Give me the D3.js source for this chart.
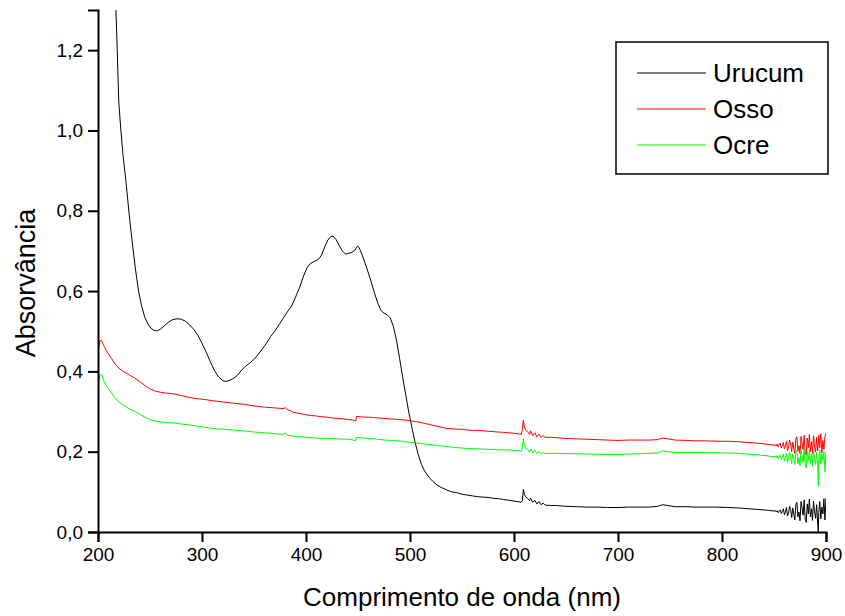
<!DOCTYPE html>
<html>
<head>
<meta charset="utf-8">
<script src="https://cdn.jsdelivr.net/npm/d3@7"></script>
<style>
  html, body { margin: 0; padding: 0; background: #fff; }
  svg { display: block; font-family: Arial, "Liberation Sans", sans-serif; }
</style>
</head>
<body>
<div id="chart"></div>
<script>
// absorbance spectra, [wavelength nm, absorbance]
var urucum = [
  [212, 1.75], [215, 1.5], [217, 1.32], [218.5, 1.2], [220, 1.07], [222, 1.0],
  [224, 0.94], [227, 0.87], [230, 0.79], [233, 0.72], [236, 0.655], [239, 0.6],
  [242, 0.562], [245, 0.535], [248, 0.518], [251, 0.507], [254, 0.502],
  [257, 0.501], [260, 0.505], [264, 0.514], [268, 0.523], [272, 0.529],
  [276, 0.531], [280, 0.53], [284, 0.525], [288, 0.516], [292, 0.505],
  [296, 0.49], [300, 0.47], [304, 0.448], [308, 0.424], [312, 0.402],
  [316, 0.386], [320, 0.377], [323, 0.375], [326, 0.377], [330, 0.382],
  [334, 0.39], [338, 0.403], [342, 0.413], [346, 0.421], [350, 0.43],
  [354, 0.442], [358, 0.456], [362, 0.47], [366, 0.487], [370, 0.5],
  [374, 0.516], [378, 0.532], [382, 0.548], [386, 0.562], [390, 0.585],
  [394, 0.61], [398, 0.64], [401, 0.658], [404, 0.668], [408, 0.674],
  [412, 0.679], [415, 0.69], [418, 0.71], [421, 0.727], [424, 0.736],
  [426, 0.737], [429, 0.728], [432, 0.713], [435, 0.7], [438, 0.692],
  [441, 0.694], [444, 0.696], [447, 0.702], [449.5, 0.712], [451, 0.709],
  [454, 0.69], [457, 0.668], [460, 0.645], [463, 0.62], [466, 0.594],
  [469, 0.57], [472, 0.552], [475, 0.545], [478, 0.541], [481, 0.533],
  [484, 0.512], [487, 0.478], [490, 0.432], [493, 0.385], [496, 0.34],
  [499, 0.296], [502, 0.258], [505, 0.222], [508, 0.192], [511, 0.168],
  [514, 0.152], [518, 0.137], [522, 0.126], [526, 0.117], [530, 0.111],
  [535, 0.105], [540, 0.1], [545, 0.098], [550, 0.094], [555, 0.092],
  [560, 0.09], [565, 0.088], [570, 0.087], [575, 0.086], [580, 0.084],
  [585, 0.083], [590, 0.081], [595, 0.079], [600, 0.077], [605, 0.075],
  [607, 0.074], [608, 0.078], [609, 0.106], [610, 0.094], [611, 0.088],
  [613, 0.084], [615, 0.078], [616, 0.084], [618, 0.074], [620, 0.079],
  [622, 0.07], [624, 0.076], [626, 0.068], [628, 0.072], [630, 0.067],
  [635, 0.066], [640, 0.066], [645, 0.065], [650, 0.064], [660, 0.063],
  [670, 0.062], [680, 0.062], [690, 0.061], [700, 0.061], [710, 0.062],
  [720, 0.062], [730, 0.062], [738, 0.064], [743, 0.068], [748, 0.066],
  [755, 0.063], [765, 0.063], [775, 0.062], [785, 0.062], [795, 0.062],
  [805, 0.061], [815, 0.06], [825, 0.058], [835, 0.056], [845, 0.054],
  [850, 0.052], [851, 0.054], [852, 0.05], [853, 0.053], [854, 0.048],
  [855, 0.052], [856, 0.055], [857, 0.046], [858, 0.051], [859, 0.058],
  [860, 0.043], [861, 0.05], [862, 0.061], [863, 0.04], [864, 0.047],
  [865, 0.064], [866, 0.056], [867, 0.036], [868, 0.06], [869, 0.045],
  [870, 0.03], [871, 0.068], [872, 0.074], [873, 0.038], [874, 0.05],
  [875, 0.028], [876, 0.076], [877, 0.06], [878, 0.042], [879, 0.08],
  [880, 0.032], [881, 0.024], [882, 0.07], [883, 0.045], [884, 0.082],
  [885, 0.038], [886, 0.058], [887, 0.029], [888, 0.077], [889, 0.05],
  [890, 0.034], [891, 0.068], [892, 0.02], [892.6, 0.0], [893, 0.048],
  [894, 0.076], [895, 0.033], [896, 0.062], [897, 0.045], [898, 0.083],
  [899, 0.03], [900, 0.085]
];

var osso = [
  [200, 0.437], [201, 0.465], [202, 0.476], [203, 0.478], [204, 0.474],
  [206, 0.462], [208, 0.452], [210, 0.444], [213, 0.432], [216, 0.42],
  [220, 0.408], [225, 0.399], [230, 0.391], [235, 0.384], [240, 0.375],
  [245, 0.365], [250, 0.356], [255, 0.351], [260, 0.348], [265, 0.346],
  [270, 0.345], [275, 0.343], [280, 0.34], [285, 0.337], [290, 0.334],
  [295, 0.332], [300, 0.331], [305, 0.329], [310, 0.327], [320, 0.324],
  [330, 0.321], [340, 0.318], [350, 0.314], [360, 0.311], [370, 0.309],
  [375, 0.308], [378, 0.307], [380, 0.31], [382, 0.305], [385, 0.302],
  [388, 0.298], [392, 0.296], [396, 0.294], [400, 0.292], [405, 0.29],
  [410, 0.289], [415, 0.287], [420, 0.286], [425, 0.284], [430, 0.283],
  [435, 0.282], [440, 0.28], [445, 0.279], [448, 0.277], [448.5, 0.288],
  [452, 0.287], [456, 0.286], [460, 0.286], [465, 0.285], [470, 0.284],
  [475, 0.283], [480, 0.282], [485, 0.281], [490, 0.28], [495, 0.279],
  [500, 0.277], [505, 0.275], [510, 0.273], [515, 0.27], [520, 0.267],
  [525, 0.264], [530, 0.261], [535, 0.258], [540, 0.257], [545, 0.256],
  [550, 0.256], [555, 0.254], [560, 0.253], [565, 0.253], [570, 0.252],
  [575, 0.251], [580, 0.25], [585, 0.249], [590, 0.248], [595, 0.247],
  [600, 0.246], [605, 0.244], [607, 0.243], [608, 0.255], [609, 0.279],
  [610, 0.262], [611, 0.254], [613, 0.25], [615, 0.243], [616, 0.252],
  [618, 0.24], [620, 0.247], [622, 0.237], [624, 0.244], [626, 0.236],
  [628, 0.24], [630, 0.236], [635, 0.236], [640, 0.235], [650, 0.233],
  [660, 0.232], [670, 0.231], [680, 0.23], [690, 0.229], [700, 0.228],
  [710, 0.229], [720, 0.229], [730, 0.229], [738, 0.23], [743, 0.234],
  [748, 0.232], [755, 0.229], [765, 0.228], [775, 0.227], [785, 0.227],
  [795, 0.226], [805, 0.226], [815, 0.225], [825, 0.223], [835, 0.221],
  [845, 0.218], [850, 0.216], [851, 0.218], [852, 0.214], [853, 0.219],
  [854, 0.212], [855, 0.217], [856, 0.221], [857, 0.209], [858, 0.215],
  [859, 0.223], [860, 0.207], [861, 0.214], [862, 0.226], [863, 0.203],
  [864, 0.212], [865, 0.229], [866, 0.219], [867, 0.2], [868, 0.224],
  [869, 0.209], [870, 0.196], [871, 0.232], [872, 0.237], [873, 0.201],
  [874, 0.215], [875, 0.195], [876, 0.238], [877, 0.222], [878, 0.205],
  [879, 0.241], [880, 0.198], [881, 0.192], [882, 0.234], [883, 0.21],
  [884, 0.243], [885, 0.2], [886, 0.225], [887, 0.196], [888, 0.24],
  [889, 0.214], [890, 0.199], [891, 0.236], [892, 0.202], [893, 0.241],
  [894, 0.21], [895, 0.245], [896, 0.197], [897, 0.228], [898, 0.206],
  [899, 0.238], [900, 0.247]
];

var ocre = [
  [200, 0.354], [201, 0.38], [202, 0.391], [203, 0.393], [204, 0.389],
  [206, 0.375], [208, 0.364], [210, 0.357], [213, 0.346], [216, 0.335],
  [220, 0.324], [225, 0.315], [230, 0.307], [235, 0.301], [240, 0.293],
  [245, 0.286], [250, 0.28], [255, 0.276], [260, 0.274], [265, 0.273],
  [270, 0.272], [275, 0.271], [280, 0.269], [290, 0.266], [300, 0.262],
  [310, 0.258], [320, 0.256], [330, 0.254], [340, 0.252], [350, 0.249],
  [360, 0.247], [370, 0.245], [378, 0.243], [380, 0.247], [382, 0.241],
  [390, 0.238], [400, 0.236], [410, 0.234], [420, 0.233], [430, 0.232],
  [440, 0.231], [448, 0.228], [448.5, 0.236], [455, 0.234], [465, 0.232],
  [475, 0.229], [485, 0.228], [495, 0.225], [505, 0.222], [515, 0.219],
  [525, 0.216], [535, 0.213], [545, 0.21], [555, 0.208], [565, 0.207],
  [575, 0.206], [585, 0.205], [595, 0.204], [605, 0.202], [607, 0.201],
  [608, 0.21], [609, 0.233], [610, 0.216], [611, 0.21], [613, 0.206],
  [615, 0.199], [616, 0.207], [618, 0.197], [620, 0.204], [622, 0.195],
  [624, 0.201], [626, 0.194], [628, 0.198], [630, 0.196], [640, 0.196],
  [650, 0.195], [660, 0.195], [670, 0.194], [680, 0.194], [690, 0.193],
  [700, 0.193], [710, 0.194], [720, 0.195], [730, 0.196], [738, 0.197],
  [743, 0.202], [748, 0.2], [755, 0.198], [765, 0.198], [775, 0.198],
  [785, 0.198], [795, 0.197], [805, 0.197], [815, 0.196], [825, 0.194],
  [835, 0.192], [845, 0.189], [850, 0.187], [851, 0.189], [852, 0.185],
  [853, 0.19], [854, 0.183], [855, 0.188], [856, 0.192], [857, 0.18],
  [858, 0.186], [859, 0.194], [860, 0.177], [861, 0.185], [862, 0.196],
  [863, 0.174], [864, 0.183], [865, 0.198], [866, 0.19], [867, 0.171],
  [868, 0.195], [869, 0.18], [870, 0.168], [871, 0.2], [872, 0.204],
  [873, 0.17], [874, 0.185], [875, 0.165], [876, 0.203], [877, 0.19],
  [878, 0.173], [879, 0.205], [880, 0.167], [881, 0.16], [882, 0.2],
  [883, 0.178], [884, 0.206], [885, 0.17], [886, 0.195], [887, 0.164],
  [888, 0.202], [889, 0.183], [890, 0.168], [891, 0.199], [892, 0.17],
  [892.6, 0.115], [893, 0.178], [894, 0.204], [895, 0.17], [896, 0.196],
  [897, 0.178], [898, 0.2], [899, 0.15], [900, 0.202]
];

var seriesNames = ["Urucum", "Osso", "Ocre"];
var seriesColors = ["#000000", "#ff0000", "#00ff00"];
var xTicks = [200, 300, 400, 500, 600, 700, 800, 900];
var yTicks = [0, 0.2, 0.4, 0.6, 0.8, 1.0, 1.2];

var W = 845, H = 616;
var m = { left: 98, right: 19, top: 10, bottom: 84 };

var svg = d3.select("#chart").append("svg")
  .attr("width", W).attr("height", H);

var x = d3.scaleLinear().domain([200, 900]).range([m.left, W - m.right]);
var y = d3.scaleLinear().domain([0, 1.3]).range([H - m.bottom, m.top]);

svg.append("clipPath").attr("id", "plot-clip")
  .append("rect")
  .attr("x", m.left).attr("y", m.top)
  .attr("width", W - m.left - m.right).attr("height", H - m.top - m.bottom);

var line = d3.line()
  .x(function (d) { return x(d[0]); })
  .y(function (d) { return y(d[1]); });

var plot = svg.append("g").attr("clip-path", "url(#plot-clip)");
[urucum, osso, ocre].forEach(function (s, i) {
  plot.append("path").datum(s)
    .attr("d", line)
    .attr("fill", "none")
    .attr("stroke", seriesColors[i])
    .attr("stroke-width", 1)
    .attr("stroke-linejoin", "round");
});

// axes: major ticks labelled, minor ticks halfway between
var fmt = function (v) { return d3.format(".1f")(v).replace(".", ","); };

var xAxis = svg.append("g")
  .attr("transform", "translate(0," + (H - m.bottom) + ")");
xAxis.call(d3.axisBottom(x).tickValues(d3.range(250, 900, 100))
  .tickSize(6).tickFormat(""));
xAxis.call(d3.axisBottom(x).tickValues(xTicks)
  .tickSize(10).tickPadding(6).tickFormat(d3.format("d")));

var yAxis = svg.append("g")
  .attr("transform", "translate(" + m.left + ",0)");
yAxis.call(d3.axisLeft(y).tickValues([0.1, 0.3, 0.5, 0.7, 0.9, 1.1])
  .tickSize(6).tickFormat(""));
yAxis.call(d3.axisLeft(y).tickValues(yTicks)
  .tickSize(10).tickPadding(5).tickFormat(fmt));

svg.selectAll(".domain").attr("stroke", "#000").attr("stroke-width", 2);
svg.selectAll(".tick line").attr("stroke", "#000").attr("stroke-width", 2);
svg.selectAll(".tick text")
  .attr("fill", "#000")
  .style("font-size", "19px")
  .style("font-family", "Arial, 'Liberation Sans', sans-serif");

svg.append("text")
  .attr("x", (m.left + W - m.right) / 2).attr("y", 606)
  .attr("text-anchor", "middle")
  .style("font-size", "26px")
  .text("Comprimento de onda (nm)");

svg.append("text")
  .attr("transform", "translate(35," + ((m.top + H - m.bottom) / 2 + 12) + ") rotate(-90)")
  .attr("text-anchor", "middle")
  .style("font-size", "27px")
  .text("Absorvância");

// legend
var lg = svg.append("g").attr("transform", "translate(616,42)");
lg.append("rect")
  .attr("width", 212).attr("height", 132)
  .attr("fill", "#fff").attr("stroke", "#000").attr("stroke-width", 1.5);
seriesNames.forEach(function (name, i) {
  var yy = 31 + i * 36;
  lg.append("line")
    .attr("x1", 21).attr("x2", 90).attr("y1", yy).attr("y2", yy)
    .attr("stroke", seriesColors[i]).attr("stroke-width", 1);
  lg.append("text")
    .attr("x", 97).attr("y", yy + 9)
    .style("font-size", "26px")
    .text(name);
});
</script>
</body>
</html>
